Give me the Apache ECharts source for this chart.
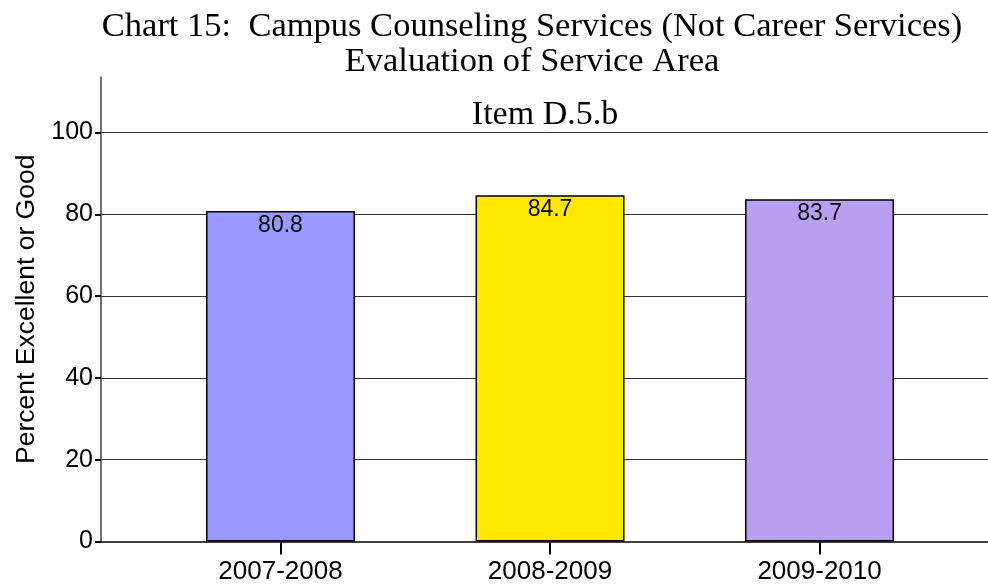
<!DOCTYPE html>
<html>
<head>
<meta charset="utf-8">
<script src="https://cdn.jsdelivr.net/npm/echarts@6/dist/echarts.min.js"></script>
<style>
  html, body { margin: 0; padding: 0; background: #fff; }
  #chart { width: 988px; height: 587px; }
</style>
</head>
<body>
<div id="chart"></div>
<script>
// data
const categories = ['2007-2008', '2008-2009', '2009-2010']
const values = [80.8, 84.7, 83.7]
const yTicks = [0, 20, 40, 60, 80, 100]

const barColors = ['#9999ff', '#ffe800', '#b8a0f0']

const chart = echarts.init(document.getElementById('chart'))

const option = {
  animation: false,
  title: [
    {
      text: 'Chart 15:  Campus Counseling Services (Not Career Services)\nEvaluation of Service Area',
      left: 527,
      top: 4,
      textAlign: 'center',
      textStyle: {
        fontFamily: 'Liberation Serif',
        fontWeight: 'normal',
        fontSize: 34.5,
        lineHeight: 35,
        color: '#000'
      }
    },
    {
      text: 'Item D.5.b',
      left: 540,
      top: 93,
      textAlign: 'center',
      textStyle: {
        fontFamily: 'Liberation Serif',
        fontWeight: 'normal',
        fontSize: 34,
        color: '#000'
      }
    }
  ],
  grid: {
    left: 101,
    right: 0,
    top: 77,
    bottom: 45.5,
    containLabel: false
  },
  xAxis: {
    type: 'value',
    min: -0.666,
    max: 2.625,
    axisLine: { show: true, onZero: false, lineStyle: { color: '#000', width: 1.5 } },
    axisTick: {
      show: true,
      customValues: [0, 1, 2],
      length: 13,
      lineStyle: { color: '#000', width: 2 }
    },
    axisLabel: {
      customValues: [0, 1, 2],
      formatter: (v) => categories[Math.round(v)],
      color: '#000',
      fontFamily: 'Liberation Sans',
      fontSize: 26,
      margin: 17
    },
    splitLine: { show: false }
  },
  yAxis: {
    type: 'value',
    min: 0,
    max: 113.6,
    name: 'Percent Excellent or Good',
    nameLocation: 'middle',
    nameGap: 60,
    nameTextStyle: {
      fontFamily: 'Liberation Sans',
      fontSize: 26.5,
      color: '#000'
    },
    axisLine: { show: true, onZero: false, lineStyle: { color: '#444', width: 1.5 } },
    axisTick: {
      show: true,
      customValues: yTicks,
      length: 6,
      lineStyle: { color: '#000', width: 2 }
    },
    axisLabel: {
      customValues: yTicks,
      color: '#000',
      fontFamily: 'Liberation Sans',
      fontSize: 25,
      margin: 8
    },
    splitLine: {
      show: true,
      showMinLine: false,
      showMaxLine: true,
      lineStyle: { color: '#333', width: 1 }
    }
  },
  series: [
    {
      type: 'bar',
      barWidth: 149,
      data: values.map((v, i) => ({
        value: [i, v],
        itemStyle: { color: barColors[i] }
      })),
      itemStyle: { borderColor: '#000', borderWidth: 1.5 },
      label: {
        show: true,
        position: 'insideTop',
        distance: 3,
        formatter: (p) => p.value[1].toFixed(1),
        color: '#000',
        fontFamily: 'Liberation Sans',
        fontSize: 23
      }
    }
  ]
}

chart.setOption(option)
</script>
</body>
</html>
